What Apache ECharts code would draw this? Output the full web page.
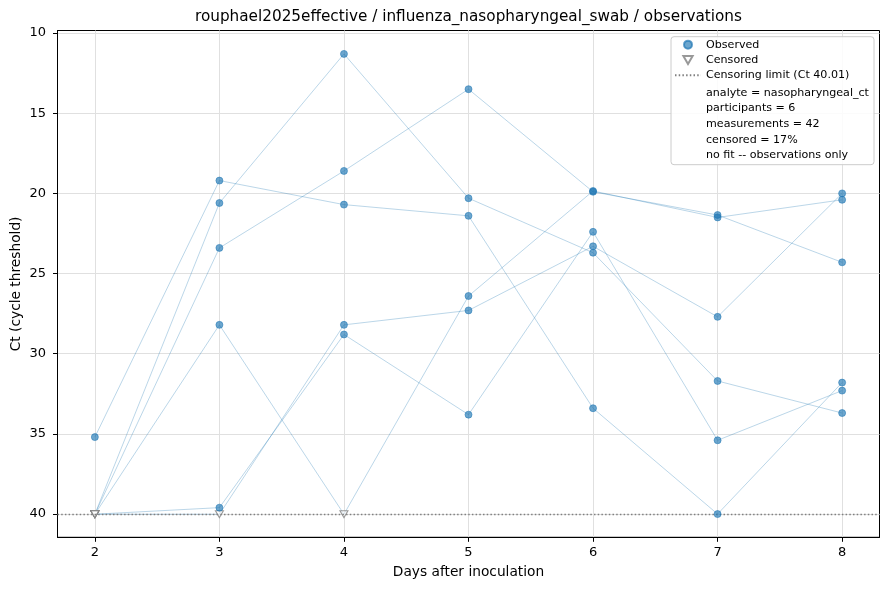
<!DOCTYPE html>
<html>
<head>
<meta charset="utf-8">
<script src="https://cdn.jsdelivr.net/npm/echarts@6/dist/echarts.min.js"></script>
<style>
html, body { margin: 0; padding: 0; background: #fff; }
#chart { width: 889px; height: 590px; }
</style>
</head>
<body>
<div id="chart"></div>
<script>
const days = [2, 3, 4, 5, 6, 7, 8];
const ctLimit = 40.01;
// one array per participant, null = censored (below detection)
const ctP1 = [35.2, 19.2, 20.7, 21.4, 33.4, 40.0, 31.8];
const ctP2 = [null, 20.6, 11.3, 20.3, 23.7, 31.7, 33.7];
const ctP3 = [null, 23.4, 18.6, 13.5, 19.9, 21.35, 24.3];
const ctP4 = [null, 28.2, null, 26.4, 19.85, 21.5, 20.4];
const ctP5 = [null, null, 28.2, 27.3, 23.3, 27.7, 20.0];
const ctP6 = [null, 39.6, 28.8, 33.8, 22.4, 35.4, 32.3];
const xTicks = [2, 3, 4, 5, 6, 7, 8];
const yTicks = [10, 15, 20, 25, 30, 35, 40];
const analyte = 'nasopharyngeal_ct';

const participants = [ctP1, ctP2, ctP3, ctP4, ctP5, ctP6];
const font = 'DejaVu Sans';
const limitName = 'Censoring limit (Ct ' + ctLimit.toFixed(2) + ')';
const triPath = 'path://M0,0L10,0L5,8.66Z';
const dotted = [1.5, 2.2];

let observed = [], censored = [];
participants.forEach(p => p.forEach((v, i) => {
    if (v === null) censored.push([days[i], ctLimit]);
    else observed.push([days[i], v]);
}));
const total = observed.length + censored.length;
const statsText = [
    'analyte = ' + analyte,
    'participants = ' + participants.length,
    'measurements = ' + total,
    'censored = ' + Math.round(100 * censored.length / total) + '%',
    'no fit -- observations only'
].join('\n');

const series = participants.map((p, k) => ({
    name: 'p' + (k + 1),
    type: 'line',
    data: p.map((v, i) => [days[i], v === null ? ctLimit : v]),
    symbol: 'none',
    silent: true,
    lineStyle: { color: 'rgba(31,119,180,0.32)', width: 0.95 },
    z: 2
}));

series.push({
    name: limitName,
    type: 'line',
    data: [],
    symbol: 'none',
    itemStyle: { color: 'rgba(0,0,0,0)', borderColor: 'rgba(0,0,0,0)' },
    lineStyle: { color: '#808080', type: dotted, width: 1.4 },
    markLine: {
        symbol: 'none',
        silent: true,
        label: { show: false },
        lineStyle: { color: '#808080', type: dotted, width: 1.4 },
        data: [{ yAxis: ctLimit }]
    },
    z: 3
});

series.push({
    name: 'Censored',
    type: 'scatter',
    data: censored,
    symbol: triPath,
    symbolSize: [8, 7],
    itemStyle: { color: 'rgba(255,255,255,0.7)', borderColor: '#7f7f7f', borderWidth: 1.1 },
    z: 4
});

series.push({
    name: 'Observed',
    type: 'scatter',
    data: observed,
    symbol: 'circle',
    symbolSize: 7,
    itemStyle: { color: 'rgba(31,119,180,0.82)', borderColor: 'rgba(31,119,180,0.85)', borderWidth: 0.8 },
    z: 5
});

const chart = echarts.init(document.getElementById('chart'));
chart.setOption({
    animation: false,
    backgroundColor: '#fff',
    textStyle: { fontFamily: font },
    title: [{
        text: 'rouphael2025effective / influenza_nasopharyngeal_swab / observations',
        left: 195, top: 10, padding: 0,
        textStyle: { fontFamily: font, fontSize: 15.25, fontWeight: 'normal', color: '#000' }
    }, {
        text: statsText,
        left: 706, top: 85.2, padding: 0, z: 10,
        textStyle: { fontFamily: font, fontSize: 11.1, fontWeight: 'normal', color: '#000', lineHeight: 15.6 }
    }],
    graphic: [{
        type: 'rect', z: 9,
        shape: { x: 671, y: 36.7, width: 203, height: 128, r: 3 },
        style: { fill: 'rgba(255,255,255,0.85)', stroke: '#cccccc', lineWidth: 1 }
    }],
    legend: {
        orient: 'vertical',
        left: 674, top: 37, padding: 0, itemGap: 0,
        itemWidth: 26, itemHeight: 8,
        z: 10,
        textStyle: { fontFamily: font, fontSize: 11.1, color: '#000', lineHeight: 15.3 },
        data: [
            { name: 'Observed', icon: 'circle' },
            { name: 'Censored', icon: triPath },
            { name: limitName }
        ]
    },
    grid: {
        left: 57.5, right: 9.5, top: 30.5, bottom: 52.7,
        containLabel: false, outerBoundsMode: 'none',
        show: true, borderColor: '#000', borderWidth: 1, backgroundColor: 'transparent'
    },
    xAxis: {
        type: 'value', min: 1.7, max: 8.3,
        name: 'Days after inoculation', nameLocation: 'middle', nameGap: 28.5,
        nameMoveOverlap: false,
        nameTextStyle: { fontFamily: font, fontSize: 13.75, color: '#000' },
        axisLine: { lineStyle: { color: '#000', width: 1 } },
        axisTick: { customValues: xTicks, length: 4.5, lineStyle: { color: '#000' } },
        axisLabel: { customValues: xTicks, color: '#000', fontSize: 13, margin: 8.5, fontFamily: font },
        splitLine: { show: true, lineStyle: { color: '#e0e0e0', width: 1 } }
    },
    yAxis: {
        type: 'value', inverse: true, min: 9.84, max: 41.45,
        name: 'Ct (cycle threshold)', nameLocation: 'middle', nameGap: 34, nameRotate: 90,
        nameMoveOverlap: false,
        nameTextStyle: { fontFamily: font, fontSize: 13.75, color: '#000' },
        axisLine: { show: true, lineStyle: { color: '#000', width: 1 } },
        axisTick: { show: true, customValues: yTicks, length: 4.5, lineStyle: { color: '#000' } },
        axisLabel: { customValues: yTicks, color: '#000', fontSize: 13, margin: 11.5, fontFamily: font },
        splitLine: { show: true, lineStyle: { color: '#e0e0e0', width: 1 } }
    },
    series: series
});
</script>
</body>
</html>
